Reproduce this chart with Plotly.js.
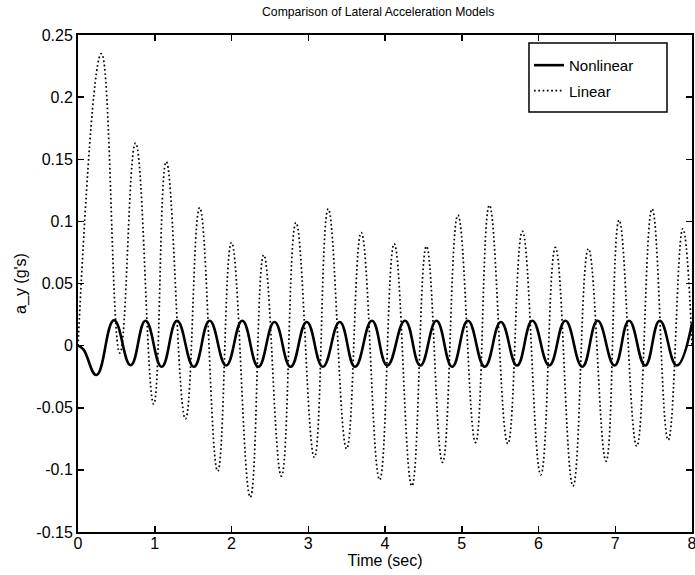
<!DOCTYPE html>
<html>
<head>
<meta charset="utf-8">
<script src="https://cdn.plot.ly/plotly-3.0.1.min.js"></script>
<style>html,body{margin:0;padding:0;background:#fff;}#chart{width:695px;height:575px;}</style>
</head>
<body>
<div id="chart"></div>
<script>
// Nonlinear model: extrema (time in s, a_y in g's)
var nonlinearTime = [0, 0.07, 0.24, 0.469, 0.686, 0.88, 1.09, 1.29, 1.51, 1.715,
  1.93, 2.14, 2.35, 2.56, 2.77, 2.98, 3.19, 3.41, 3.61, 3.83,
  4.03, 4.26, 4.46, 4.67, 4.875, 5.08, 5.30, 5.51, 5.72, 5.92,
  6.14, 6.35, 6.57, 6.77, 6.99, 7.18, 7.39, 7.58, 7.80, 8.0];
var nonlinearAy = [0, -0.003, -0.0236, 0.0204, -0.0158, 0.020, -0.017, 0.020, -0.017, 0.020,
  -0.016, 0.020, -0.017, 0.019, -0.017, 0.019, -0.017, 0.019, -0.017, 0.020,
  -0.016, 0.020, -0.016, 0.020, -0.017, 0.020, -0.017, 0.019, -0.016, 0.020,
  -0.016, 0.020, -0.017, 0.020, -0.016, 0.020, -0.016, 0.020, -0.016, 0.018];

// Linear model: extrema
var linearTime = [0, 0.305, 0.545, 0.75, 0.986, 1.15, 1.40, 1.585, 1.82, 2.0,
  2.245, 2.42, 2.65, 2.84, 3.08, 3.26, 3.50, 3.69, 3.93, 4.12,
  4.35, 4.54, 4.75, 4.95, 5.18, 5.36, 5.60, 5.79, 6.03, 6.22,
  6.45, 6.65, 6.88, 7.05, 7.28, 7.48, 7.69, 7.88, 8.0];
var linearAy = [0, 0.235, -0.006, 0.163, -0.047, 0.148, -0.059, 0.111, -0.101, 0.083,
  -0.122, 0.073, -0.105, 0.099, -0.090, 0.110, -0.083, 0.091, -0.108, 0.082,
  -0.113, 0.080, -0.094, 0.105, -0.078, 0.113, -0.079, 0.092, -0.104, 0.079,
  -0.113, 0.078, -0.093, 0.101, -0.081, 0.110, -0.076, 0.094, 0.0];

var xTickVals = [0, 1, 2, 3, 4, 5, 6, 7, 8];
var xTickText = ["0", "1", "2", "3", "4", "5", "6", "7", "8"];
var yTickVals = [-0.15, -0.1, -0.05, 0, 0.05, 0.1, 0.15, 0.2, 0.25];
var yTickText = ["-0.15", "-0.1", "-0.05", "0", "0.05", "0.1", "0.15", "0.2", "0.25"];

var seriesNames = ["Nonlinear", "Linear"];

var traces = [
  {x: nonlinearTime, y: nonlinearAy, name: seriesNames[0], legendgroup: "g1", type: "scatter", mode: "lines",
   line: {color: "#000", width: 2.6, shape: "spline", smoothing: 1.3}},
  {x: linearTime, y: linearAy, name: seriesNames[1], legendgroup: "g2", type: "scatter", mode: "lines",
   line: {color: "#000", width: 1.7, dash: "1.7px,2.6px", shape: "spline", smoothing: 1.3}}
];

var fontFam = "Liberation Sans, Arial, Helvetica, sans-serif";
var layout = {
  width: 695, height: 575,
  margin: {l: 78, r: 3, t: 35, b: 43, pad: 0},
  paper_bgcolor: "#fff", plot_bgcolor: "#fff",
  font: {family: fontFam, size: 16, color: "#000"},
  showlegend: true,
  title: {text: "Comparison of Lateral Acceleration Models",
          font: {size: 12.2, family: fontFam, color: "#000"},
          x: 0.489, xref: "paper", xanchor: "center", y: 0.979, yref: "container", yanchor: "middle"},
  xaxis: {range: [0, 8], tickvals: xTickVals, ticktext: xTickText, ticks: "inside", ticklen: 6, tickwidth: 1.5,
          tickcolor: "#000", showline: true, linecolor: "#000", linewidth: 2, mirror: "ticks",
          showgrid: false, zeroline: false, tickfont: {size: 16}, ticklabeloverflow: "allow",
          ticklabelstandoff: -4,
          title: {text: "Time (sec)", font: {size: 16}, standoff: 0}},
  yaxis: {range: [-0.15, 0.25], tickvals: yTickVals, ticktext: yTickText, ticks: "inside", ticklen: 6, tickwidth: 1.5,
          tickcolor: "#000", showline: true, linecolor: "#000", linewidth: 2, mirror: "ticks",
          showgrid: false, zeroline: false, tickfont: {size: 16}, ticklabeloverflow: "allow",
          title: {text: "a_y (g's)", font: {size: 16}, standoff: 6}},
  shapes: [{type: "rect", xref: "paper", yref: "paper", x0: 0.7345, x1: 0.9593, y0: 0.845, y1: 0.984,
            line: {color: "#000", width: 1.5}, fillcolor: "#fff", layer: "above"}],
  legend: {x: 0.7345, y: 0.972, xanchor: "left", yanchor: "top", bgcolor: "rgba(0,0,0,0)",
           borderwidth: 0, font: {size: 15}, tracegroupgap: 3}
};

Plotly.newPlot("chart", traces, layout, {displayModeBar: false, staticPlot: true});
</script>
</body>
</html>
